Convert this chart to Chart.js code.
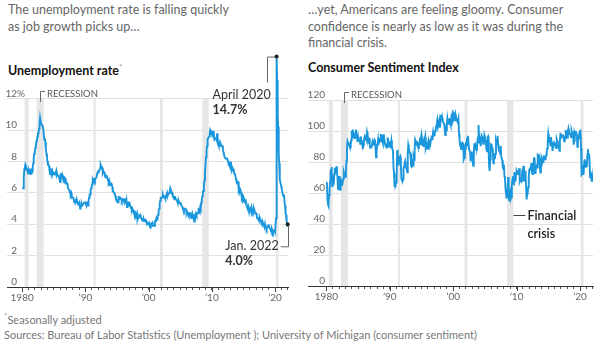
<!DOCTYPE html>
<html>
<head>
<meta charset="utf-8">
<script src="https://cdn.jsdelivr.net/npm/chart.js@4.4.1/dist/chart.umd.min.js"></script>
<style>
  body { margin: 0; width: 606px; height: 348px; background: #fff; font-family: Lato, sans-serif; position: relative; overflow: hidden; }
  .intro { position: absolute; font-size: 12.5px; color: #666; white-space: nowrap; }
  .ttl { position: absolute; top: 60px; font-size: 12.5px; line-height: 15px; font-weight: bold; color: #111; }
  .ttl sup, .foot sup { color: #999; font-weight: normal; font-size: 8px; }
  .foot { position: absolute; left: 4px; top: 309px; font-size: 11px; line-height: 15px; color: #777; white-space: nowrap; }
  canvas { position: absolute; }
</style>
</head>
<body>
<div class="intro" style="left:8px;top:1px;line-height:17px">The unemployment rate is falling quickly<br>as job growth picks up…</div>
<div class="intro" style="left:308px;top:2px;line-height:16.7px">…yet, Americans are feeling gloomy. Consumer<br>confidence is nearly as low as it was during the<br>financial crisis.</div>
<div class="ttl" style="left:8px">Unemployment rate<sup>*</sup></div>
<div class="ttl" style="left:308px">Consumer Sentiment Index</div>
<canvas id="jobs" width="300" height="256" style="left:0;top:50px"></canvas>
<canvas id="mood" width="306" height="255" style="left:300px;top:50px"></canvas>
<div class="foot"><sup>*</sup>Seasonally adjusted<br>Sources: Bureau of Labor Statistics (Unemployment ); University of Michigan (consumer sentiment)</div>
<script>
// monthly, Jan 1980 .. Jan 2022
const startYear = 1980;
const unemployment = [
  6.3,6.3,6.3,6.9,7.5,7.6,7.8,7.7,7.5,7.5,7.5,7.2,
  7.5,7.4,7.4,7.2,7.5,7.5,7.2,7.4,7.6,7.9,8.3,8.5,
  8.6,8.9,9.0,9.3,9.4,9.6,9.8,9.8,10.1,10.4,10.8,10.8,
  10.4,10.4,10.3,10.2,10.1,10.1,9.4,9.5,9.2,8.8,8.5,8.3,
  8.0,7.8,7.8,7.7,7.4,7.2,7.5,7.5,7.3,7.4,7.2,7.3,
  7.3,7.2,7.2,7.3,7.2,7.4,7.4,7.1,7.1,7.1,7.0,7.0,
  6.7,7.2,7.2,7.1,7.2,7.2,7.0,6.9,7.0,7.0,6.9,6.6,
  6.6,6.6,6.6,6.3,6.3,6.2,6.1,6.0,5.9,6.0,5.8,5.7,
  5.7,5.7,5.7,5.4,5.6,5.4,5.4,5.6,5.4,5.4,5.3,5.3,
  5.4,5.2,5.0,5.2,5.2,5.3,5.2,5.2,5.3,5.3,5.4,5.4,
  5.4,5.3,5.2,5.4,5.4,5.2,5.5,5.7,5.9,5.9,6.2,6.3,
  6.4,6.6,6.8,6.7,6.9,6.9,6.8,6.9,6.9,7.0,7.0,7.3,
  7.3,7.4,7.4,7.4,7.6,7.8,7.7,7.6,7.6,7.3,7.4,7.4,
  7.3,7.1,7.0,7.1,7.1,7.0,6.9,6.8,6.7,6.8,6.6,6.5,
  6.6,6.6,6.5,6.4,6.1,6.1,6.1,6.0,5.9,5.8,5.6,5.5,
  5.6,5.4,5.4,5.8,5.6,5.6,5.7,5.7,5.6,5.5,5.6,5.6,
  5.6,5.5,5.5,5.6,5.6,5.3,5.5,5.1,5.2,5.2,5.4,5.4,
  5.3,5.2,5.2,5.1,4.9,5.0,4.9,4.8,4.9,4.7,4.6,4.7,
  4.6,4.6,4.7,4.3,4.4,4.5,4.5,4.5,4.6,4.5,4.4,4.4,
  4.3,4.4,4.2,4.3,4.2,4.3,4.3,4.2,4.2,4.1,4.1,4.0,
  4.0,4.1,4.0,3.8,4.0,4.0,4.0,4.1,3.9,3.9,3.9,3.9,
  4.2,4.2,4.3,4.4,4.3,4.5,4.6,4.9,5.0,5.3,5.5,5.7,
  5.7,5.7,5.7,5.9,5.8,5.8,5.8,5.7,5.7,5.7,5.9,6.0,
  5.8,5.9,5.9,6.0,6.1,6.3,6.2,6.1,6.1,6.0,5.8,5.7,
  5.7,5.6,5.8,5.6,5.6,5.6,5.5,5.4,5.4,5.5,5.4,5.4,
  5.3,5.4,5.2,5.2,5.1,5.0,5.0,4.9,5.0,5.0,5.0,4.9,
  4.7,4.8,4.7,4.7,4.6,4.6,4.7,4.7,4.5,4.4,4.5,4.4,
  4.6,4.5,4.4,4.5,4.4,4.6,4.7,4.6,4.7,4.7,4.7,5.0,
  5.0,4.9,5.1,5.0,5.4,5.6,5.8,6.1,6.1,6.5,6.8,7.3,
  7.8,8.3,8.7,9.0,9.4,9.5,9.5,9.6,9.8,10.0,9.9,9.9,
  9.8,9.8,9.9,9.9,9.6,9.4,9.4,9.5,9.5,9.4,9.8,9.3,
  9.1,9.0,9.0,9.1,9.0,9.1,9.0,9.0,9.0,8.8,8.6,8.5,
  8.3,8.3,8.2,8.2,8.2,8.2,8.2,8.0,7.8,7.8,7.7,7.9,
  8.0,7.7,7.5,7.6,7.5,7.5,7.3,7.2,7.2,7.2,6.9,6.7,
  6.6,6.7,6.7,6.2,6.3,6.1,6.2,6.1,5.9,5.7,5.8,5.6,
  5.7,5.5,5.4,5.4,5.6,5.3,5.2,5.1,5.0,5.0,5.1,5.0,
  4.8,4.9,5.0,5.1,4.8,4.9,4.8,4.9,5.0,4.9,4.7,4.7,
  4.7,4.6,4.4,4.4,4.4,4.3,4.3,4.4,4.3,4.2,4.2,4.1,
  4.0,4.1,4.0,4.0,3.8,4.0,3.8,3.8,3.7,3.8,3.8,3.9,
  4.0,3.8,3.8,3.7,3.6,3.6,3.7,3.6,3.5,3.6,3.6,3.6,
  3.5,3.5,4.4,14.7,13.2,11.0,10.2,8.4,7.9,6.9,6.7,6.7,
  6.4,6.2,6.0,6.0,5.8,5.9,5.4,5.2,4.7,4.6,4.2,3.9,
  4.0
];
const sentiment = [
  67.0,66.9,56.5,52.7,51.7,58.7,62.3,67.3,73.7,75.0,76.7,64.5,
  71.4,66.9,66.5,72.4,76.3,73.1,74.1,77.2,73.1,70.3,62.5,64.3,
  71.0,66.5,62.0,65.5,67.5,65.7,65.4,65.4,69.3,73.4,72.1,71.9,
  70.4,74.6,80.8,89.1,93.3,92.2,92.8,90.9,89.9,89.3,91.1,94.2,
  100.1,97.4,101.0,96.1,98.1,95.5,96.6,99.1,100.9,96.3,95.7,92.9,
  96.0,93.7,93.7,94.6,91.8,96.5,94.0,92.4,92.1,88.4,90.9,93.9,
  95.6,95.9,95.1,96.2,94.8,99.3,97.7,94.9,91.9,95.6,91.4,89.1,
  90.4,90.2,90.8,92.8,91.1,91.5,93.7,94.4,93.6,89.3,83.1,86.8,
  90.8,91.6,94.6,91.2,94.8,94.7,93.4,97.4,97.3,94.1,93.0,91.9,
  97.9,95.4,94.3,91.5,90.7,90.6,92.0,89.6,95.8,93.9,90.9,90.5,
  93.0,89.5,91.3,93.9,90.6,88.3,88.2,76.4,72.8,63.9,66.0,65.5,
  66.8,70.4,87.7,81.8,78.3,82.1,82.9,82.0,83.0,78.3,69.1,68.2,
  67.5,68.8,76.0,77.2,79.2,80.4,76.6,76.1,75.6,73.3,85.3,91.0,
  89.3,86.6,85.9,85.6,80.3,81.5,77.0,77.3,77.9,82.7,81.2,88.2,
  94.3,93.2,91.5,92.6,92.8,91.2,89.0,91.7,91.5,92.7,91.6,95.1,
  97.6,95.1,90.3,92.5,89.8,92.7,94.4,96.2,88.9,90.2,88.2,91.0,
  89.3,88.5,93.7,92.7,89.4,92.4,94.7,95.3,94.7,96.5,99.2,96.9,
  97.4,99.7,100.0,101.4,103.2,104.5,107.1,104.4,106.0,105.6,107.2,102.1,
  106.6,110.4,106.5,108.7,106.5,105.6,105.2,104.4,100.9,97.4,102.7,100.5,
  103.9,108.1,105.7,104.6,106.8,107.3,106.0,104.5,107.2,103.2,107.2,105.4,
  112.0,111.3,107.1,109.2,110.7,106.4,108.3,107.3,106.8,105.8,107.6,98.4,
  94.7,90.6,91.5,88.4,92.0,92.6,92.4,91.5,81.8,82.7,83.9,88.8,
  93.0,90.7,95.7,93.0,96.9,92.4,88.1,87.6,86.1,80.6,84.2,86.7,
  82.4,79.9,77.6,86.0,92.1,89.7,90.9,89.3,87.7,89.6,93.7,92.6,
  103.8,94.4,95.8,94.2,90.2,95.6,96.7,95.9,94.2,91.7,92.8,97.1,
  95.5,94.1,92.6,87.7,86.9,96.0,96.5,89.1,76.9,74.2,81.6,91.5,
  91.2,86.7,88.9,87.4,79.1,84.9,84.7,82.0,85.4,93.6,92.1,91.7,
  96.9,91.3,88.4,87.1,88.3,85.3,90.4,83.4,83.4,80.9,76.1,75.5,
  78.4,70.8,69.5,62.6,59.8,56.4,61.2,63.0,70.3,57.6,55.3,60.1,
  61.2,56.3,57.3,65.1,68.7,70.8,66.0,65.7,73.5,70.6,67.4,72.5,
  74.4,73.6,73.6,72.2,73.6,76.0,67.8,68.9,68.2,67.7,71.6,74.5,
  74.2,77.5,67.5,69.8,74.3,71.5,63.7,55.8,59.5,60.8,63.7,69.9,
  75.0,75.3,76.2,76.4,79.3,73.2,72.3,74.3,78.3,82.6,82.7,72.9,
  73.8,77.6,78.6,76.4,84.5,84.1,85.1,82.1,77.5,73.2,75.1,82.5,
  81.2,81.6,80.0,84.1,81.9,82.5,81.8,82.5,84.6,86.9,88.8,93.6,
  98.1,95.4,93.0,95.9,90.7,96.1,93.1,91.9,87.2,90.0,91.3,92.6,
  92.0,91.7,91.0,89.0,94.7,93.5,90.0,89.8,91.2,87.2,93.8,98.2,
  98.5,96.3,96.9,97.0,97.1,95.0,93.4,96.8,95.1,100.7,98.5,95.9,
  95.7,99.7,101.4,98.8,98.0,98.2,97.9,96.2,100.1,98.6,97.5,98.3,
  91.2,93.8,98.4,97.2,100.0,98.2,98.4,89.8,93.2,95.5,96.8,99.3,
  99.8,101.0,89.1,71.8,72.3,78.1,72.5,74.1,80.4,81.8,76.9,80.7,
  79.0,76.8,84.9,88.3,82.9,85.5,81.2,70.3,72.8,71.7,67.4,70.6,
  67.2
];
const recessionStart = [1980.4, 1982.3, 1991.3, 2001.8, 2008.5, 2020.15];
const recessionEnd   = [1981.0, 1983.4, 1991.6, 2002.25, 2009.5, 2020.55];
const decadeYears  = [1980, 1990, 2000, 2010, 2020];
const decadeLabels = ['1980', '’90', '’00', '’10', '’20'];
const jobsTicks = [0, 2, 4, 6, 8, 10, 12];
const moodTicks = [0, 20, 40, 60, 80, 100, 120];

const BLUE = '#1a97dc';
const yearTicks = [];
for (let y = 1980; y <= 2022; y++) yearTicks.push(y);

function toPoints(values) {
  return values.map((v, i) => ({ x: startYear + i / 12, y: v }));
}
function lastPoint(values) {
  return { x: startYear + (values.length - 1) / 12, y: values[values.length - 1] };
}

// grey recession columns, yearly tick marks, y labels sitting on the gridlines
const framePlugin = {
  id: 'frame',
  beforeDatasetsDraw(chart) {
    const { ctx, chartArea, scales: { x, y } } = chart;
    const o = chart.options.plugins.frame;
    const top = y.getPixelForValue(o.ticks[o.ticks.length - 1]);
    ctx.save();
    ctx.fillStyle = '#e6e6e6';
    for (let i = 0; i < recessionStart.length; i++) {
      const a = x.getPixelForValue(recessionStart[i]);
      const b = x.getPixelForValue(recessionEnd[i]);
      ctx.fillRect(a, top, Math.max(b - a, 2), chartArea.bottom - top);
    }
    // RECESSION bracket on the early-80s column
    const bx = x.getPixelForValue((recessionStart[1] + recessionEnd[1]) / 2);
    ctx.strokeStyle = '#666';
    ctx.lineWidth = 1;
    ctx.beginPath();
    ctx.moveTo(Math.round(bx) + 0.5, top + 3);
    ctx.lineTo(Math.round(bx) + 0.5, top - 7.5);
    ctx.lineTo(Math.round(bx) + 5, top - 7.5);
    ctx.stroke();
    ctx.fillStyle = '#555';
    ctx.font = '9.5px Lato';
    ctx.textBaseline = 'alphabetic';
    ctx.fillText('RECESSION', Math.round(bx) + 7, top - 2);
    // y labels
    ctx.font = '10px Lato';
    ctx.fillStyle = '#666';
    ctx.textAlign = 'right';
    o.ticks.forEach((v, i) => {
      const py = y.getPixelForValue(v) - 2;
      ctx.fillText(String(v), o.labelX, py);
      if (i === o.ticks.length - 1 && o.unit) {
        ctx.textAlign = 'left';
        ctx.fillText(o.unit, o.labelX, py);
        ctx.textAlign = 'right';
      }
    });
    ctx.restore();
  },
  afterDraw(chart) {
    const { ctx, chartArea, scales: { x } } = chart;
    ctx.save();
    ctx.strokeStyle = '#444';
    ctx.lineWidth = 1;
    decadeYears.forEach(v => {
      const px = Math.round(x.getPixelForValue(v)) + 0.5;
      ctx.beginPath();
      ctx.moveTo(px, chartArea.bottom);
      ctx.lineTo(px, chartArea.bottom + 5);
      ctx.stroke();
    });
    ctx.restore();
  }
};

function dot(ctx, px, py) {
  ctx.fillStyle = '#222';
  ctx.beginPath();
  ctx.arc(px, py, 2, 0, Math.PI * 2);
  ctx.fill();
}

const jobsNotes = {
  id: 'jobsNotes',
  afterDatasetsDraw(chart) {
    const { ctx, scales: { x, y } } = chart;
    const peak = unemployment.indexOf(Math.max(...unemployment));
    const px = x.getPixelForValue(startYear + peak / 12);
    const py = y.getPixelForValue(unemployment[peak]);
    ctx.save();
    ctx.strokeStyle = '#666';
    ctx.lineWidth = 1;
    const lx = Math.round(px) - 9.5;
    ctx.beginPath();
    ctx.moveTo(px, py + 0.5);
    ctx.lineTo(lx, py + 0.5);
    ctx.lineTo(lx, py + 26);
    ctx.stroke();
    dot(ctx, px, py);
    ctx.fillStyle = '#333';
    ctx.font = '12.5px Lato';
    ctx.fillText('April 2020', lx - 55, py + 42);
    ctx.font = 'bold 12.5px Lato';
    ctx.fillText(unemployment[peak].toFixed(1) + '%', lx - 55, py + 57);

    const last = lastPoint(unemployment);
    const ex = x.getPixelForValue(last.x);
    const ey = y.getPixelForValue(last.y);
    ctx.beginPath();
    ctx.moveTo(Math.round(ex) + 0.5, ey);
    ctx.lineTo(Math.round(ex) + 0.5, ey + 22.5);
    ctx.lineTo(ex - 7, ey + 22.5);
    ctx.stroke();
    dot(ctx, ex, ey);
    ctx.fillStyle = '#333';
    ctx.font = '12.5px Lato';
    ctx.textAlign = 'right';
    ctx.fillText('Jan. 2022', ex - 9, ey + 26);
    const w = ctx.measureText('Jan. 2022').width;
    ctx.textAlign = 'left';
    ctx.font = 'bold 12.5px Lato';
    ctx.fillText(last.y.toFixed(1) + '%', ex - 9 - w, ey + 41);
    ctx.restore();
  }
};

const moodNotes = {
  id: 'moodNotes',
  afterDatasetsDraw(chart) {
    const { ctx, scales: { x, y } } = chart;
    const bx = x.getPixelForValue(recessionEnd[4]);
    const ly = Math.round(y.getPixelForValue(46)) + 0.5;
    ctx.save();
    ctx.strokeStyle = '#444';
    ctx.lineWidth = 1;
    ctx.beginPath();
    ctx.moveTo(bx, ly);
    ctx.lineTo(bx + 12, ly);
    ctx.stroke();
    ctx.fillStyle = '#222';
    ctx.font = '600 12.5px Lato';
    ctx.fillText('Financial', bx + 14, ly + 4);
    ctx.fillText('crisis', bx + 14, ly + 22);
    ctx.restore();
  }
};

function makeChart(id, values, opts) {
  return new Chart(document.getElementById(id), {
    type: 'line',
    data: {
      datasets: [{
        data: toPoints(values),
        borderColor: BLUE,
        borderWidth: 1.9,
        pointRadius: 0,
        tension: 0,
        fill: false
      }]
    },
    options: {
      responsive: false,
      animation: false,
      devicePixelRatio: 1,
      layout: { padding: opts.padding },
      plugins: {
        legend: { display: false },
        tooltip: { enabled: false },
        frame: { ticks: opts.ticks, labelX: opts.labelX, unit: opts.unit }
      },
      scales: {
        x: {
          type: 'linear',
          min: opts.xMin,
          max: 2022.05,
          afterBuildTicks: s => { s.ticks = yearTicks.map(v => ({ value: v })); },
          grid: { drawOnChartArea: false, drawTicks: true, tickLength: 3, color: '#555' },
          border: { display: true, color: '#333', width: 1 },
          ticks: {
            autoSkip: false, maxRotation: 0, padding: 2, color: '#666',
            font: { size: 10 },
            callback: v => { const i = decadeYears.indexOf(v); return i < 0 ? '' : decadeLabels[i]; }
          }
        },
        y: {
          min: 0,
          max: opts.yMax,
          afterBuildTicks: s => { s.ticks = opts.ticks.map(v => ({ value: v })); },
          grid: { drawTicks: false, color: '#e0e0e0' },
          border: { display: false },
          ticks: { display: false }
        }
      }
    },
    plugins: [framePlugin, opts.notes]
  });
}

Chart.defaults.font.family = 'Lato';

makeChart('jobs', unemployment, {
  padding: { left: 7, right: 12, top: 5, bottom: 0 },
  xMin: 1977.6, yMax: 14.8, ticks: jobsTicks, labelX: 17, unit: '%', notes: jobsNotes
});
makeChart('mood', sentiment, {
  padding: { left: 8, right: 13, top: 50, bottom: 0 },
  xMin: 1977.1, yMax: 120, ticks: moodTicks, labelX: 25, unit: '', notes: moodNotes
});
</script>
</body>
</html>
